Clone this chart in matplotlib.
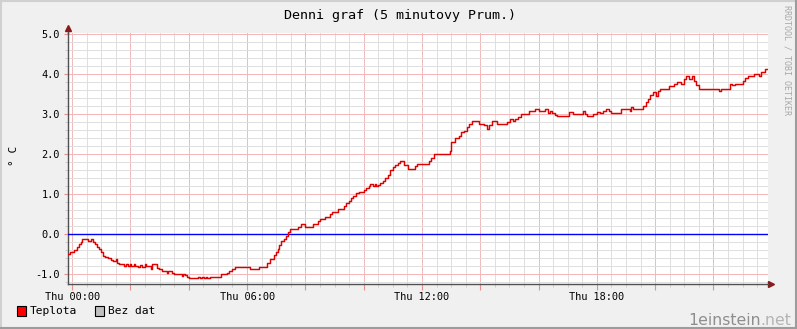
import matplotlib
matplotlib.use("Agg")
import matplotlib.pyplot as plt
from matplotlib.patches import Rectangle
from matplotlib.lines import Line2D
from matplotlib.ticker import MultipleLocator, FuncFormatter

# step changes: hour of day -> temperature (deg C)
hours = [
    -0.16, -0.08, 0.07, 0.15, 0.22, 0.30, 0.35, 0.56, 0.64, 0.73, 0.78, 0.84, 0.92, 0.99,
    1.06, 1.13, 1.23, 1.32, 1.40, 1.50, 1.55, 1.61, 1.78, 1.86, 1.92, 1.98, 2.03, 2.11,
    2.16, 2.26, 2.33, 2.41, 2.49, 2.52, 2.71, 2.75, 2.92, 2.98, 3.07, 3.24, 3.30, 3.42,
    3.50, 3.76, 3.80, 3.87, 3.95, 4.01, 4.32, 4.38, 4.44, 4.52, 4.58, 4.64, 4.72, 5.10,
    5.30, 5.38, 5.50, 5.59, 6.11, 6.40, 6.68, 6.77, 6.91, 7.00, 7.05, 7.10, 7.18, 7.27,
    7.35, 7.40, 7.48, 7.75, 7.84, 7.98, 8.26, 8.43, 8.49, 8.66, 8.83, 8.91, 9.12, 9.31,
    9.40, 9.49, 9.58, 9.65, 9.72, 9.83, 10.01, 10.09, 10.17, 10.23, 10.32, 10.38, 10.43,
    10.49, 10.57, 10.66, 10.74, 10.83, 10.91, 11.00, 11.08, 11.17, 11.23, 11.37, 11.52,
    11.77, 11.83, 12.23, 12.32, 12.40, 12.95, 13.00, 13.12, 13.26, 13.34, 13.43, 13.54,
    13.63, 13.71, 13.97, 14.14, 14.23, 14.31, 14.40, 14.57, 14.91, 15.03, 15.12, 15.18,
    15.29, 15.40, 15.66, 15.88, 16.00, 16.23, 16.34, 16.40, 16.45, 16.57, 16.63, 17.03,
    17.18, 17.51, 17.58, 17.66, 17.88, 18.00, 18.09, 18.20, 18.32, 18.40, 18.49, 18.83,
    19.12, 19.17, 19.25, 19.58, 19.67, 19.75, 19.83, 19.94, 20.03, 20.09, 20.15, 20.49,
    20.66, 20.74, 20.89, 21.00, 21.06, 21.17, 21.25, 21.32, 21.40, 21.49, 22.18, 22.25,
    22.57, 22.64, 22.75, 23.00, 23.08, 23.18, 23.40, 23.57, 23.63, 23.75, 23.83,
]
temps = [
    -0.50, -0.44, -0.39, -0.33, -0.25, -0.19, -0.125, -0.17, -0.125, -0.20, -0.25, -0.31, -0.375, -0.44,
    -0.54, -0.56, -0.60, -0.64, -0.68, -0.62, -0.73, -0.75, -0.80, -0.75, -0.80, -0.75, -0.80, -0.75,
    -0.80, -0.82, -0.78, -0.82, -0.75, -0.80, -0.88, -0.75, -0.85, -0.88, -0.93, -0.98, -0.93, -0.98,
    -1.00, -1.04, -1.00, -1.02, -1.06, -1.10, -1.06, -1.10, -1.06, -1.10, -1.07, -1.10, -1.06, -1.00,
    -0.98, -0.93, -0.88, -0.81, -0.875, -0.81, -0.71, -0.63, -0.52, -0.44, -0.37, -0.27, -0.18, -0.12,
    -0.04, 0.05, 0.125, 0.17, 0.26, 0.19, 0.26, 0.32, 0.38, 0.44, 0.50, 0.56, 0.62, 0.69,
    0.77, 0.83, 0.90, 0.96, 1.02, 1.06, 1.11, 1.15, 1.19, 1.25, 1.19, 1.25, 1.19,
    1.22, 1.27, 1.33, 1.40, 1.48, 1.61, 1.67, 1.73, 1.77, 1.82, 1.73, 1.62,
    1.69, 1.75, 1.82, 1.90, 2.00, 2.07, 2.29, 2.40, 2.44, 2.54, 2.58, 2.67,
    2.75, 2.82, 2.75, 2.71, 2.63, 2.71, 2.82, 2.75, 2.80, 2.87, 2.82, 2.86,
    2.92, 3.00, 3.07, 3.12, 3.07, 3.12, 3.02, 3.07, 3.02, 2.97, 2.94, 3.05,
    3.00, 3.07, 3.00, 2.94, 3.00, 3.05, 3.01, 3.07, 3.12, 3.07, 3.01, 3.12,
    3.07, 3.17, 3.12, 3.19, 3.29, 3.37, 3.48, 3.55, 3.44, 3.56, 3.62, 3.69,
    3.75, 3.80, 3.75, 3.86, 3.94, 3.87, 3.94, 3.82, 3.73, 3.62, 3.56, 3.62,
    3.75, 3.71, 3.75, 3.83, 3.90, 3.94, 4.00, 3.94, 4.05, 4.11, 4.11,
]

title = "Denni graf (5 minutovy Prum.)"
legend_labels = ["Teplota", "Bez dat"]
legend_colors = ["#FF0000", "#C0C0C0"]

W, H = 797, 329
mono = "DejaVu Sans Mono"
plt.rcParams["font.family"] = mono

fig = plt.figure(figsize=(W / 100, H / 100), dpi=100, facecolor="#F0F0F0")
ax = fig.add_axes([67.5 / W, 1 - 283.5 / H, (768 - 67.5) / W, (283.5 - 33.2) / H])
ax.set_facecolor("white")

ax.plot(hours, temps, drawstyle="steps-post", color="#E00000", lw=1.05, zorder=4)
ax.axhline(0, color="#0000FF", lw=1.0, zorder=3)

ax.set_xlim(-0.16, 23.87)
ax.set_ylim(-1.23, 5.01)

ax.xaxis.set_major_locator(MultipleLocator(2))
ax.xaxis.set_minor_locator(MultipleLocator(0.5))
ax.xaxis.set_major_formatter(FuncFormatter(
    lambda v, p: f"Thu {int(round(v)):02d}:00" if round(v) % 6 == 0 else ""))
ax.yaxis.set_major_locator(MultipleLocator(1))
ax.yaxis.set_minor_locator(MultipleLocator(0.2))
ax.yaxis.set_major_formatter(FuncFormatter(lambda v, p: f"{v:.1f}"))

ax.grid(which="minor", color="#DEDEDE", lw=0.7)
ax.grid(which="major", color="#F5B5B5", lw=0.7)
ax.set_axisbelow(True)

ax.tick_params(which="major", length=3, color="#E89090", labelsize=7.4, pad=2.5)
ax.tick_params(which="minor", length=2, color="#C8C8C8")
ax.tick_params(axis="x", which="major", length=4, pad=2)

for s in ["top", "right"]:
    ax.spines[s].set_visible(False)
for s in ["left", "bottom"]:
    ax.spines[s].set_color("#505050")
    ax.spines[s].set_linewidth(1)

# axis arrows
ax.plot([0, 0], [1, 1.02], color="#505050", lw=1, transform=ax.transAxes, clip_on=False)
ax.plot([0], [1.02], marker="^", color="#8B1A1A", ms=4, transform=ax.transAxes, clip_on=False)
ax.plot([1, 1.004], [0, 0], color="#505050", lw=1, transform=ax.transAxes, clip_on=False)
ax.plot([1.004], [0], marker=">", color="#8B1A1A", ms=4, transform=ax.transAxes, clip_on=False)

fig.text(400 / W, 1 - 16 / H, title, ha="center", va="center", fontsize=9.6)
fig.text(14 / W, 1 - 156 / H, "° C", rotation=90, ha="center", va="center", fontsize=8)
fig.text(787 / W, 1 - 5 / H, "RRDTOOL / TOBI OETIKER", rotation=270, ha="center",
         va="top", fontsize=6, color="#A8A8A8")

# legend
lx = [17, 95]
for x0, lab, col in zip(lx, legend_labels, legend_colors):
    fig.patches.append(Rectangle((x0 / W, 1 - 316 / H), 9 / W, 10 / H, transform=fig.transFigure,
                                 facecolor=col, edgecolor="black", lw=0.8))
    fig.text((x0 + 13) / W, 1 - 311 / H, lab, ha="left", va="center", fontsize=8.1)

# watermark
t1 = fig.text(688 / W, 1 - 328 / H, "1einstein", ha="left", va="bottom",
              fontsize=11.3, color="#8E8E8E", family="DejaVu Sans")
ax.annotate(".net", xy=(1, 0), xycoords=t1, ha="left", va="bottom",
            fontsize=11.3, color="#B4B4B4", family="DejaVu Sans", annotation_clip=False)

# outer frame
px, py = 1 / W, 1 / H
fig.add_artist(Line2D([0, 1], [1 - py, 1 - py], color="#D0D0D0", lw=1.5, transform=fig.transFigure))
fig.add_artist(Line2D([px, px], [0, 1], color="#D0D0D0", lw=1.5, transform=fig.transFigure))
fig.add_artist(Line2D([0, 1], [py, py], color="#9C9C9C", lw=1.5, transform=fig.transFigure))
fig.add_artist(Line2D([1 - px, 1 - px], [0, 1], color="#9C9C9C", lw=1.5, transform=fig.transFigure))

fig.savefig("out.png", dpi=100, facecolor=fig.get_facecolor())
